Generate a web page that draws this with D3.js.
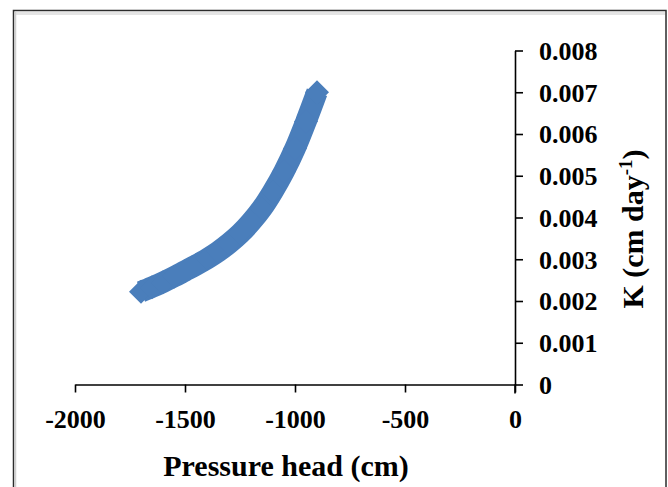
<!DOCTYPE html>
<html>
<head>
<meta charset="utf-8">
<script src="https://cdn.jsdelivr.net/npm/d3@7"></script>
<style>
  html, body { margin: 0; padding: 0; background: #fff; }
  svg { display: block; }
  text { font-family: "Liberation Serif", "Times New Roman", serif; font-weight: bold; fill: #000; }
</style>
</head>
<body>
<svg id="chart" width="668" height="487"></svg>
<script>
// Pressure head (cm) and hydraulic conductivity K (cm/day)
const pressureHead = [-1700, -1650, -1600, -1550, -1500, -1450, -1400, -1350, -1300,
                      -1250, -1200, -1150, -1100, -1050, -1000, -950, -900];
const conductivity = [0.00222, 0.00233, 0.00245, 0.00258, 0.00272, 0.00286, 0.00301, 0.00318, 0.00338,
                      0.00361, 0.00389, 0.00422, 0.00463, 0.00510, 0.00565, 0.00630, 0.00700];

const xTicks = [-2000, -1500, -1000, -500, 0];
const yTicks = [0, 0.001, 0.002, 0.003, 0.004, 0.005, 0.006, 0.007, 0.008];

const svg = d3.select("#chart");
const H = 487;

// outer chart frame
svg.append("rect").attr("x", 13.5).attr("y", 10.5).attr("width", 652.5).attr("height", 490)
  .attr("fill", "#fff").attr("stroke", "#2b2b2b").attr("stroke-width", 1.5);
svg.append("line").attr("x1", 16).attr("x2", 665).attr("y1", 13.5).attr("y2", 13.5)
  .attr("stroke", "#e4e4e4").attr("stroke-width", 3);
svg.append("line").attr("x1", 15.5).attr("x2", 15.5).attr("y1", 12).attr("y2", H)
  .attr("stroke", "#cfcfcf").attr("stroke-width", 1.5);

const x = d3.scaleLinear().domain([-2000, 0]).range([75, 515]);
const y = d3.scaleLinear().domain([0, 0.008]).range([384.5, 50.5]);

const fmtX = d3.format("d");
const fmtY = d => d === 0 ? "0" : d3.format(".3f")(d);

// x axis (ticks point down)
const gx = svg.append("g").attr("transform", `translate(0,${y(0)})`)
  .call(d3.axisBottom(x).tickValues(xTicks).tickSizeInner(8).tickSizeOuter(0).tickFormat(fmtX));
gx.select(".domain").attr("stroke", "#000").attr("stroke-width", 1.6);
gx.selectAll(".tick line").attr("stroke", "#000").attr("stroke-width", 1.6);
gx.selectAll(".tick text").attr("font-size", 26).attr("dy", null).attr("y", 43)
  .style("font-family", "'Liberation Serif', 'Times New Roman', serif").style("font-weight", "bold")
  .text(d => fmtX(d).replace("\u2212", "-"));

// y axis at x = 0 (ticks point right, labels on the right)
const gy = svg.append("g").attr("transform", `translate(${x(0)},0)`)
  .call(d3.axisRight(y).tickValues(yTicks).tickSizeInner(8).tickSizeOuter(0).tickFormat(fmtY));
gy.select(".domain").attr("stroke", "#000").attr("stroke-width", 1.6);
gy.selectAll(".tick line").attr("stroke", "#000").attr("stroke-width", 1.6);
gy.selectAll(".tick text").attr("font-size", 26).attr("x", 24).attr("dy", "0.34em")
  .style("font-family", "'Liberation Serif', 'Times New Roman', serif").style("font-weight", "bold");

// x-axis tick at 0 extends below the axis line
svg.append("line").attr("x1", x(0)).attr("x2", x(0)).attr("y1", y(0)).attr("y2", y(0) + 9)
  .attr("stroke", "#000").attr("stroke-width", 1.6);

// axis titles
svg.append("text").attr("x", 286).attr("y", 476).attr("text-anchor", "middle")
  .attr("font-size", 30).text("Pressure head (cm)");

const yTitle = svg.append("text")
  .attr("transform", `translate(643,229) rotate(-90)`)
  .attr("text-anchor", "middle").attr("font-size", 30);
yTitle.append("tspan").text("K (cm day");
yTitle.append("tspan").attr("font-size", 19).attr("dy", -11).text("-1");
yTitle.append("tspan").attr("dy", 11).text(")");

// data series: thick band with diamond markers
const pts = pressureHead.map((h, i) => [x(h), y(conductivity[i])]);
const color = "#4a7ebb";

svg.append("path")
  .attr("d", d3.line().curve(d3.curveMonotoneX)(pts))
  .attr("fill", "none").attr("stroke", color).attr("stroke-width", 21.5)
  .attr("stroke-linejoin", "round");

svg.append("g").selectAll("path").data(pts).join("path")
  .attr("transform", d => `translate(${d[0]},${d[1]}) rotate(45)`)
  .attr("d", d3.symbol().type(d3.symbolSquare).size(2 * 12 * 12))
  .attr("fill", color);
</script>
</body>
</html>
